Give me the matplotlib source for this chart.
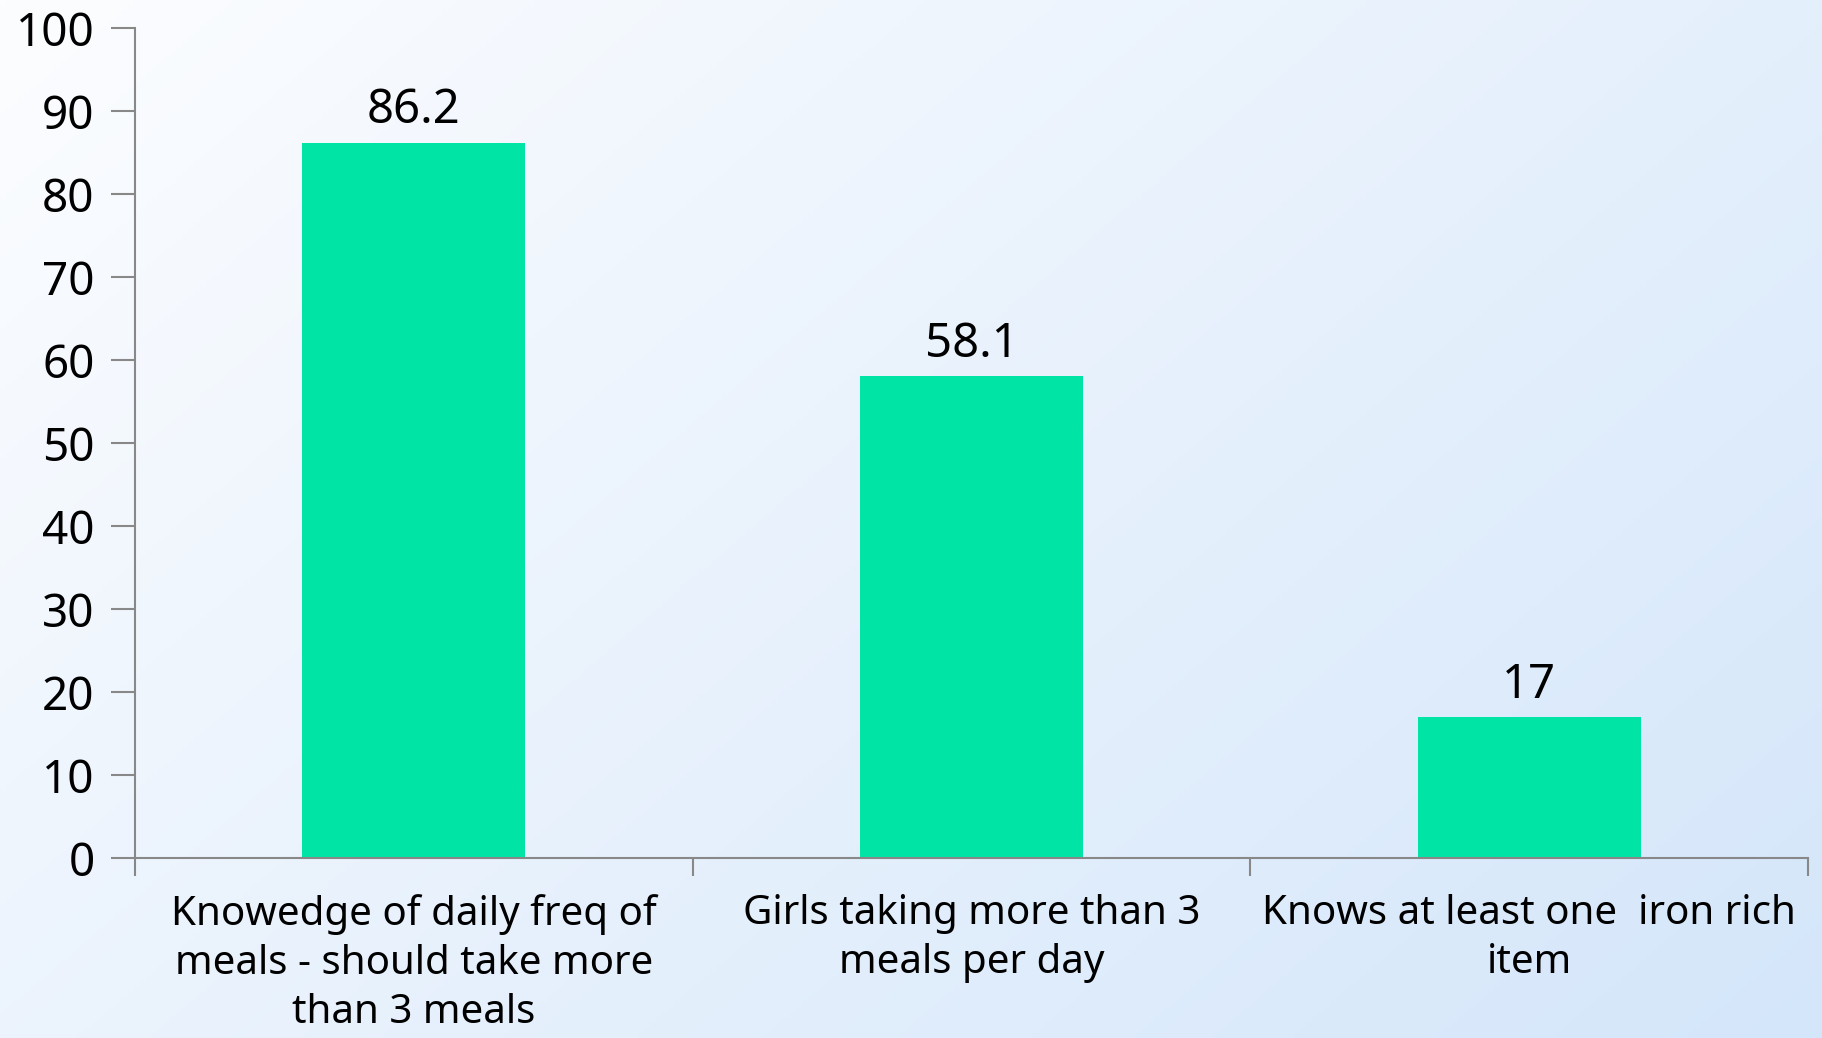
import numpy as np
import matplotlib.pyplot as plt

categories = ['Knowedge of daily freq of\nmeals - should take more\nthan 3 meals',
              'Girls taking more than 3\nmeals per day',
              'Knows at least one  iron rich\nitem']
values = [86.2, 58.1, 17]
value_labels = ['86.2', '58.1', '17']
yticks = [0, 10, 20, 30, 40, 50, 60, 70, 80, 90, 100]

plt.rcParams['font.family'] = ['Noto Sans', 'DejaVu Sans']

fig = plt.figure(figsize=(18.22, 10.38), dpi=100)

# background gradient, white top-left to light blue bottom-right
bg = fig.add_axes([0, 0, 1, 1], zorder=-1)
gx, gy = np.meshgrid(np.linspace(0, 1, 300), np.linspace(0, 1, 200))
t = (gx * 0.6 + gy * 0.4)
c0 = np.array([252, 253, 255]) / 255
c1 = np.array([212, 230, 250]) / 255
img = c0[None, None, :] * (1 - t[..., None]) + c1[None, None, :] * t[..., None]
bg.imshow(img, aspect='auto', extent=[0, 1, 0, 1], origin='upper')
bg.axis('off')

ax = fig.add_axes([0.0741, 0.1734, 0.9182, 0.7996])
ax.patch.set_alpha(0)

x = np.arange(len(categories))
ax.bar(x, values, width=0.4, color='#00E4A6', zorder=2)
for xi, v, lab in zip(x, values, value_labels):
    ax.text(xi, v + 2.3, lab, ha='center', va='baseline', fontsize=34, color='black')

ax.set_xlim(-0.5, len(categories) - 0.5)
ax.set_ylim(0, 100)
ax.set_yticks(yticks)
ax.set_yticklabels([str(v) for v in yticks], fontsize=33)

ax.set_xticks(x)
ax.set_xticklabels(categories, fontsize=29, linespacing=1.3)
ax.tick_params(axis='x', length=0, pad=26)
# category boundary ticks
ax.set_xticks(np.arange(len(categories) + 1) - 0.5, minor=True)
ax.tick_params(axis='x', which='minor', length=13, width=1.5, color='#888888')
ax.tick_params(axis='y', length=17, width=1.5, color='#888888', pad=12)

for s in ['top', 'right']:
    ax.spines[s].set_visible(False)
for s in ['left', 'bottom']:
    ax.spines[s].set_color('#888888')
    ax.spines[s].set_linewidth(1.5)

fig.savefig('out.png', dpi=100)
